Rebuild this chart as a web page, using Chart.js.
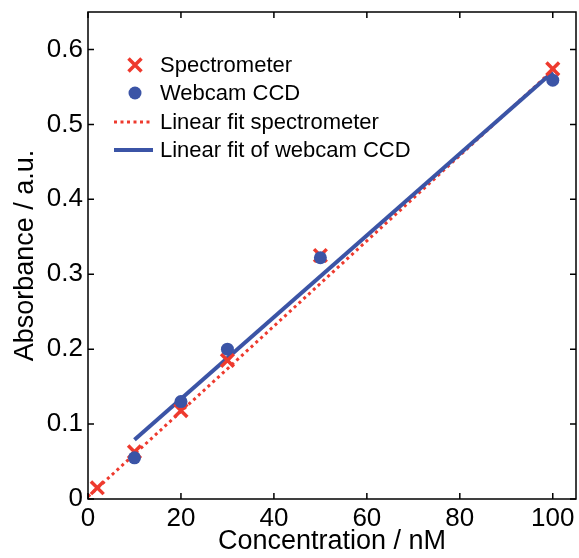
<!DOCTYPE html>
<html>
<head>
<meta charset="utf-8">
<script src="https://cdn.jsdelivr.net/npm/chart.js@4"></script>
<style>
  html, body { margin: 0; padding: 0; background: #fff; }
  canvas { display: block; }
</style>
</head>
<body>
<canvas id="absChart" width="579" height="558"></canvas>
<script>
// data
const specX = [2, 10, 20, 30, 50, 100];
const specY = [0.015, 0.063, 0.118, 0.185, 0.325, 0.574];
const camX = [10, 20, 30, 50, 100];
const camY = [0.055, 0.130, 0.200, 0.322, 0.559];
const specFitX = [0, 101];
const specFitY = [0.003, 0.578];
const camFitX = [10, 100];
const camFitY = [0.079, 0.570];
const xTicks = [0, 20, 40, 60, 80, 100];
const yTicks = [0, 0.1, 0.2, 0.3, 0.4, 0.5, 0.6];
const legendLabels = ['Spectrometer', 'Webcam CCD', 'Linear fit spectrometer', 'Linear fit of webcam CCD'];

const RED = '#ee3a2e';
const BLUE = '#3b54a6';
const FONT = "'Liberation Sans', Arial, Helvetica, sans-serif";

const pts = (xs, ys) => xs.map((x, i) => ({ x: x, y: ys[i] }));

// frame + inward ticks + legend
const framePlugin = {
  id: 'frame',
  afterDraw(chart) {
    const ctx = chart.ctx;
    const a = chart.chartArea;
    const xs = chart.scales.x, ys = chart.scales.y;
    ctx.save();
    ctx.strokeStyle = '#000';
    ctx.lineWidth = 1.5;
    ctx.strokeRect(a.left, a.top, a.right - a.left, a.bottom - a.top);
    const tl = 6;
    ctx.beginPath();
    xTicks.forEach(v => {
      const px = xs.getPixelForValue(v);
      ctx.moveTo(px, a.bottom); ctx.lineTo(px, a.bottom - tl);
      ctx.moveTo(px, a.top); ctx.lineTo(px, a.top + tl);
    });
    yTicks.forEach(v => {
      const py = ys.getPixelForValue(v);
      ctx.moveTo(a.left, py); ctx.lineTo(a.left + tl, py);
      ctx.moveTo(a.right, py); ctx.lineTo(a.right - tl, py);
    });
    ctx.stroke();

    // legend
    const lx = 135, tx = 160;
    const rows = [65, 93, 122, 150];
    ctx.font = '22px ' + FONT;
    ctx.fillStyle = '#000';
    ctx.textBaseline = 'middle';
    legendLabels.forEach((t, i) => ctx.fillText(t, tx, rows[i] + 1));

    // cross
    ctx.strokeStyle = RED;
    ctx.lineWidth = 3.5;
    const c = 6.5;
    ctx.beginPath();
    ctx.moveTo(lx - c, rows[0] - c); ctx.lineTo(lx + c, rows[0] + c);
    ctx.moveTo(lx + c, rows[0] - c); ctx.lineTo(lx - c, rows[0] + c);
    ctx.stroke();
    // dot
    ctx.fillStyle = BLUE;
    ctx.beginPath();
    ctx.arc(lx, rows[1], 6.5, 0, Math.PI * 2);
    ctx.fill();
    // dotted line
    ctx.strokeStyle = RED;
    ctx.lineWidth = 3;
    ctx.setLineDash([3, 3.5]);
    ctx.beginPath();
    ctx.moveTo(114, rows[2]); ctx.lineTo(153, rows[2]);
    ctx.stroke();
    ctx.setLineDash([]);
    // solid line
    ctx.strokeStyle = BLUE;
    ctx.lineWidth = 4;
    ctx.beginPath();
    ctx.moveTo(114, rows[3]); ctx.lineTo(153, rows[3]);
    ctx.stroke();
    ctx.restore();
  }
};

new Chart(document.getElementById('absChart').getContext('2d'), {
  type: 'scatter',
  data: {
    datasets: [
      { label: legendLabels[1], data: pts(camX, camY), order: 0,
        pointStyle: 'circle', pointRadius: 6.5, pointHoverRadius: 6.5,
        backgroundColor: BLUE, borderColor: BLUE, borderWidth: 0, showLine: false },
      { label: legendLabels[0], data: pts(specX, specY), order: 1,
        pointStyle: 'crossRot', pointRadius: 9, pointHoverRadius: 9,
        borderColor: RED, backgroundColor: RED, borderWidth: 3.5, showLine: false },
      { label: legendLabels[3], data: pts(camFitX, camFitY), order: 2,
        showLine: true, borderColor: BLUE, borderWidth: 4, pointRadius: 0, fill: false },
      { label: legendLabels[2], data: pts(specFitX, specFitY), order: 3,
        showLine: true, borderColor: RED, borderWidth: 3, borderDash: [3, 3.5],
        pointRadius: 0, fill: false }
    ]
  },
  options: {
    responsive: false,
    animation: false,
    devicePixelRatio: 1,
    layout: { autoPadding: false, padding: { top: 12, right: 3, left: 0, bottom: 0 } },
    plugins: { legend: { display: false }, tooltip: { enabled: false } },
    scales: {
      x: {
        type: 'linear', min: 0, max: 105,
        afterBuildTicks: s => { s.ticks = xTicks.map(v => ({ value: v })); },
        afterFit: s => { s.height = 59; s.paddingLeft = 0; s.paddingRight = 0; },
        grid: { display: false, drawTicks: false },
        border: { display: false },
        ticks: { padding: 4, color: '#000', maxRotation: 0, font: { family: FONT, size: 26 } },
        title: { display: true, text: 'Concentration / nM', color: '#000',
          font: { family: FONT, size: 27 }, padding: { top: 0, bottom: 0 } }
      },
      y: {
        type: 'linear', min: 0, max: 0.65,
        afterBuildTicks: s => { s.ticks = yTicks.map(v => ({ value: v })); },
        afterFit: s => { s.width = 88; s.paddingTop = 0; s.paddingBottom = 0; },
        grid: { display: false, drawTicks: false },
        border: { display: false },
        ticks: { padding: 5, color: '#000', font: { family: FONT, size: 26 },
          callback: v => String(Math.round(v * 10) / 10) },
        title: { display: true, text: 'Absorbance / a.u.', color: '#000',
          font: { family: FONT, size: 27 }, padding: { top: 9, bottom: 0 } }
      }
    }
  },
  plugins: [framePlugin]
});
</script>
</body>
</html>
